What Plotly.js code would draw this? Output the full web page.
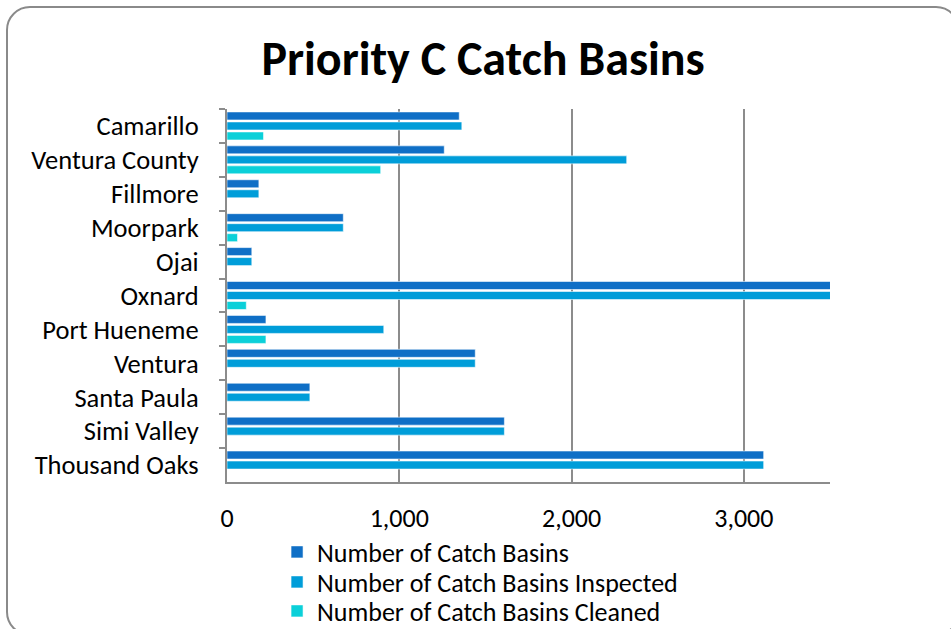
<!DOCTYPE html>
<html>
<head>
<meta charset="utf-8">
<script src="https://cdn.plot.ly/plotly-3.0.1.min.js"></script>
<style>
html,body{margin:0;padding:0;background:#fff;overflow:hidden;width:951px;height:629px;}
#frame{position:absolute;left:6px;top:6px;width:954px;height:630px;border:2px solid #8a8a8a;border-radius:24px;box-sizing:border-box;}
#chart{position:absolute;left:0;top:0;width:951px;height:629px;}
</style>
</head>
<body>
<div id="frame"></div>
<div id="chart"></div>
<script>
const categories = ["Camarillo","Ventura County","Fillmore","Moorpark","Ojai","Oxnard","Port Hueneme","Ventura","Santa Paula","Simi Valley","Thousand Oaks"];
const seriesNames = ["Number of Catch Basins","Number of Catch Basins Inspected","Number of Catch Basins Cleaned"];
const catchBasins = [1348,1261,185,675,144,3520,226,1441,481,1610,3115];
const inspected   = [1363,2320,185,675,144,3520,910,1441,481,1610,3115];
const cleaned     = [212,892,0,61,0,112,226,0,0,0,0];
const colors = ["#0F6FC6","#009DD9","#0BD0D9"];
const xTicks = [0,1000,2000,3000];
const xTickText = ["0","1,000","2,000","3,000"];

const font = "Carlito, Calibri, Lato, sans-serif";
const legendIds = ['legend','legend2','legend3'];
const legendCenters = [552, 582, 611];
const data = [catchBasins, inspected, cleaned].map((vals,i)=>({
  type:'bar', orientation:'h', name:seriesNames[i], y:categories, x:vals,
  legend:legendIds[i],
  marker:{color:colors[i], line:{color:'rgba(255,255,255,0.55)', width:1}},
  hoverinfo:'x+y'
}));

const layout = {
  width:951, height:629,
  paper_bgcolor:'rgba(0,0,0,0)', plot_bgcolor:'rgba(0,0,0,0)',
  margin:{l:227, r:121, t:109, b:147, autoexpand:false},
  barmode:'group', bargap:0.115, bargroupgap:0.2,
  title:{text:'<b>Priority C Catch Basins</b>', font:{family:font, size:48, color:'#000'}, x:0.508, xanchor:'center', y:0.908, yanchor:'middle'},
  xaxis:{range:[0,3500], tickvals:xTicks, ticktext:xTickText, showgrid:true, gridcolor:'#8c8c8c', gridwidth:2,
    showline:true, linecolor:'#8c8c8c', linewidth:2, zeroline:false, ticks:'', ticklabelstandoff:12,
    tickfont:{family:font, size:26, color:'#000'}, fixedrange:true},
  yaxis:{autorange:'reversed', type:'category', showline:true, linecolor:'#8c8c8c', linewidth:2,
    ticks:'outside', tickson:'boundaries', ticklen:6, tickcolor:'#8c8c8c', tickwidth:2,
    showgrid:false, tickfont:{family:font, size:26.5, color:'#000'}, ticklabelstandoff:21, fixedrange:true},
  showlegend:true
};
legendIds.forEach((id,i)=>{
  layout[id] = {orientation:'v', x:0.083, xanchor:'left', yref:'container', y:1 - legendCenters[i]/629, yanchor:'middle',
    font:{family:font, size:26, color:'#000'}, itemwidth:30, bgcolor:'rgba(0,0,0,0)'};
});
Plotly.newPlot('chart', data, layout, {displayModeBar:false, staticPlot:true});
</script>
</body>
</html>
